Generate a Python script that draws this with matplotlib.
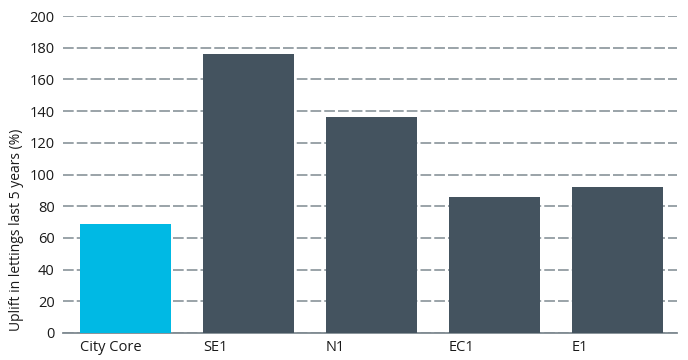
import matplotlib.pyplot as plt

areas = ["City Core", "SE1", "N1", "EC1", "E1"]
uplift = [69, 176, 136, 86, 92]
bar_colors = ["#00b9e4", "#44535f", "#44535f", "#44535f", "#44535f"]
yticks = [0, 20, 40, 60, 80, 100, 120, 140, 160, 180, 200]

plt.rcParams['font.family'] = ['Open Sans', 'DejaVu Sans']

fig = plt.figure(figsize=(6.88, 3.6), dpi=100)
ax = fig.add_axes([63/688, 27/360, 614/688, 317/360])

w = 0.74
x = list(range(len(areas)))
ax.bar(x, uplift, width=w, color=bar_colors, zorder=3)

ax.set_ylim(0, 200)
ax.set_xlim(-0.508, 4.484)
ax.set_yticks(yticks)
ax.yaxis.grid(True, color="#7f8a91", linestyle=(0, (7, 2.0)), linewidth=1.1, zorder=1)

# labels sit at the left edge of each bar
ax.set_xticks([i - w/2 for i in x])
ax.set_xticklabels(areas, ha="left", fontsize=10.5, color="#1a1a1a")
ax.tick_params(axis="x", length=0, pad=5)
ax.tick_params(axis="y", length=0, pad=6, labelsize=10.5, labelcolor="#1a1a1a")

for s in ["top", "right", "left"]:
    ax.spines[s].set_visible(False)
ax.spines["bottom"].set_color("#7f8a91")
ax.spines["bottom"].set_linewidth(1.3)

ax.set_ylabel("Uplift in lettings last 5 years (%)", fontsize=10, color="#1a1a1a")
ax.yaxis.set_label_coords(-0.064, 0.325)

fig.savefig("out.png", dpi=100)
